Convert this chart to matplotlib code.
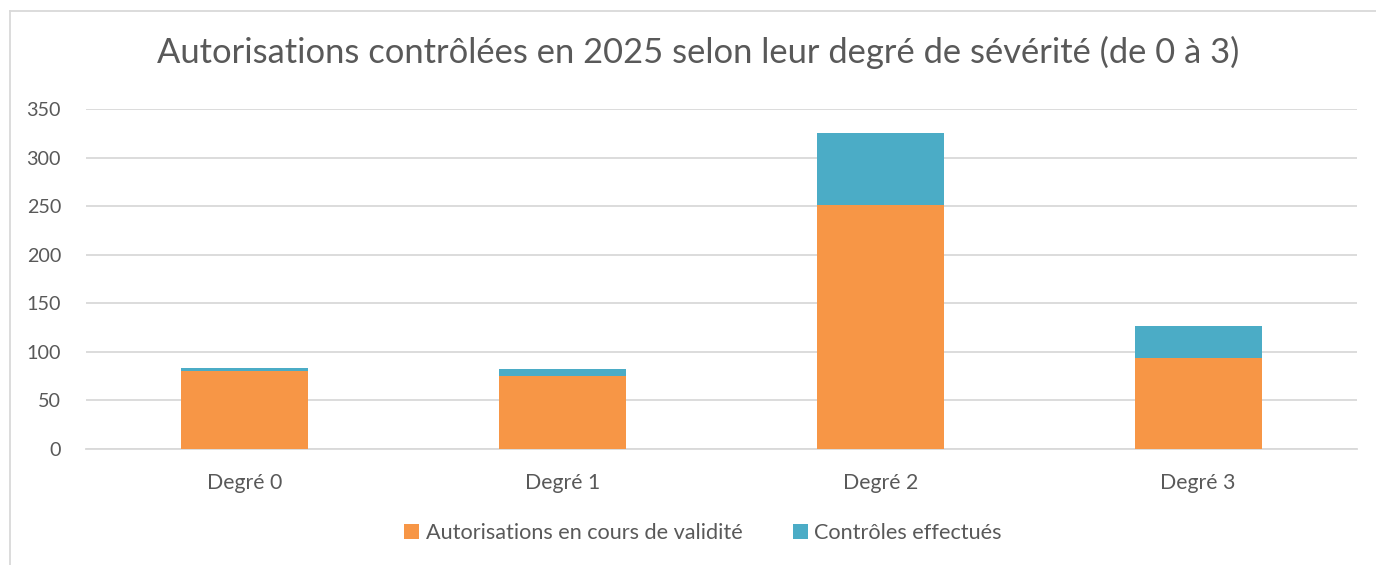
import matplotlib
matplotlib.use("Agg")
import matplotlib.pyplot as plt
from matplotlib.lines import Line2D
from matplotlib.patches import Patch
import numpy as np

categories = ["Degré 0", "Degré 1", "Degré 2", "Degré 3"]
autorisations = [80, 75, 251, 94]
controles = [3, 7, 74, 33]
yticks = [0, 50, 100, 150, 200, 250, 300, 350]
title = "Autorisations contrôlées en 2025 selon leur degré de sévérité (de 0 à 3)"
series_names = ["Autorisations en cours de validité", "Contrôles effectués"]

ORANGE = "#F79646"
TEAL = "#4BACC6"
TXT = "#595959"
GRID = "#D9D9D9"

plt.rcParams['font.family'] = ['Lato', 'DejaVu Sans']

W, H = 1376, 565
fig = plt.figure(figsize=(W / 100, H / 100), dpi=100)

# outer chart frame (left and top visible)
fig.add_artist(Line2D([9.5 / W, 9.5 / W], [0, 1 - 10.5 / H], transform=fig.transFigure, color="#D9D9D9", lw=1.3))
fig.add_artist(Line2D([9.5 / W, 1], [1 - 10.5 / H, 1 - 10.5 / H], transform=fig.transFigure, color="#D9D9D9", lw=1.3))

left, right = 86 / W, 1357 / W
bottom, top = (H - 449) / H, (H - 109) / H
ax = fig.add_axes([left, bottom, right - left, top - bottom])

x = np.arange(len(categories))
ax.bar(x, autorisations, width=0.4, color=ORANGE, zorder=3)
ax.bar(x, controles, width=0.4, bottom=autorisations, color=TEAL, zorder=3)

ax.set_xlim(-0.5, len(categories) - 0.5)
ax.set_ylim(0, 350)
ax.set_yticks(yticks)
ax.set_xticks(x)
ax.set_xticklabels(categories)
ax.yaxis.grid(True, color=GRID, lw=1.3, zorder=0)
ax.set_axisbelow(True)
for s in ["top", "right", "left"]:
    ax.spines[s].set_visible(False)
ax.spines["bottom"].set_color(GRID)
ax.spines["bottom"].set_linewidth(1.3)
ax.tick_params(axis="both", length=0, colors=TXT)
ax.tick_params(axis="y", pad=18, labelsize=14.2)
ax.tick_params(axis="x", pad=17, labelsize=15.3)

fig.text(698 / W, 1 - 52 / H, title, ha="center", va="center", fontsize=24.8, color=TXT)

handles = [Patch(facecolor=ORANGE, edgecolor="none"), Patch(facecolor=TEAL, edgecolor="none")]
fig.legend(handles, series_names, loc="center", bbox_to_anchor=(703 / W, 1 - 533 / H), ncol=2, frameon=False,
           fontsize=15.6, labelcolor=TXT, handlelength=0.7, handleheight=0.7, handletextpad=0.3, columnspacing=2.3)

fig.savefig("out.png", dpi=100, facecolor="white")
